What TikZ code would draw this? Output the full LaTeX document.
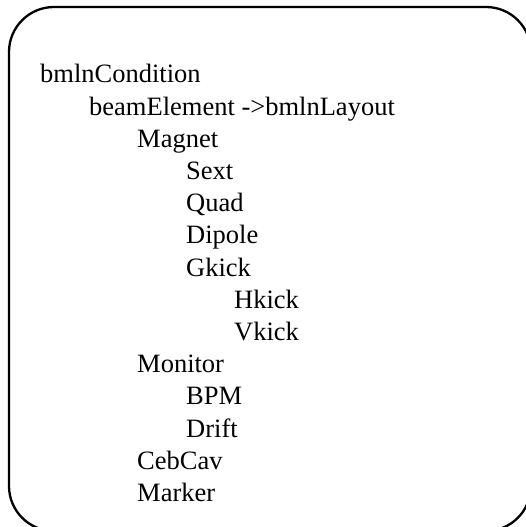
\documentclass[tikz,border=0pt]{standalone}
\usepackage{fontspec}
\setmainfont{Liberation Serif}
\begin{document}
\begin{tikzpicture}[x=1pt,y=1pt,
  lbl/.style={anchor=base west,inner sep=0pt,font=\fontsize{26.5}{32}\selectfont},
  frame/.style={draw=black,line width=2.3pt,rounded corners=45pt}]
\useasboundingbox (0,0) rectangle (526,527);
\begin{scope}
\clip (0,0) rectangle (526,527);
\draw[frame] (9,520) rectangle (531,-4);
\end{scope}
\def\yb#1{527-83-32.2*#1}
\node[lbl] (n0)  at (40,{\yb{0}})  {bmlnCondition};
\node[lbl] (n1)  at (89,{\yb{1}})  {beamElement ->bmlnLayout};
\node[lbl] (n2)  at (137,{\yb{2}}) {Magnet};
\node[lbl] (n3)  at (186,{\yb{3}}) {Sext};
\node[lbl] (n4)  at (186,{\yb{4}}) {Quad};
\node[lbl] (n5)  at (186,{\yb{5}}) {Dipole};
\node[lbl] (n6)  at (186,{\yb{6}}) {Gkick};
\node[lbl] (n7)  at (234,{\yb{7}}) {Hkick};
\node[lbl] (n8)  at (234,{\yb{8}}) {Vkick};
\node[lbl] (n9)  at (137,{\yb{9}}) {Monitor};
\node[lbl] (n10) at (186,{\yb{10}}) {BPM};
\node[lbl] (n11) at (186,{\yb{11}}) {Drift};
\node[lbl] (n12) at (137,{\yb{12}}) {CebCav};
\node[lbl] (n13) at (137,{\yb{13}}) {Marker};
\end{tikzpicture}
\end{document}
